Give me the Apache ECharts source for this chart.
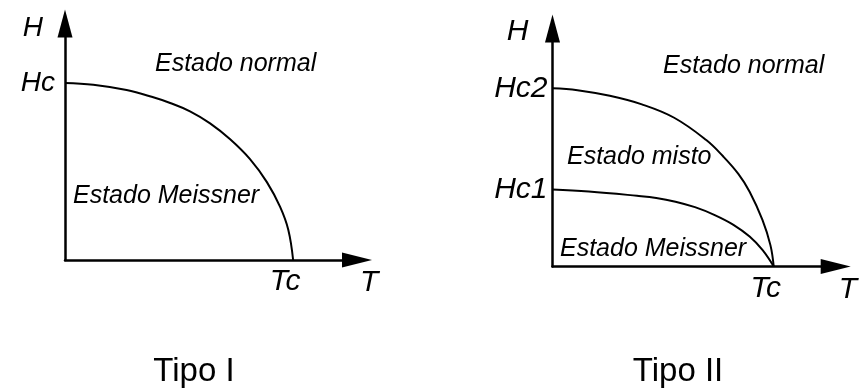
<!DOCTYPE html>
<html>
<head>
<meta charset="utf-8">
<script src="https://cdn.jsdelivr.net/npm/echarts@6/dist/echarts.min.js"></script>
<style>
  html, body { margin: 0; padding: 0; background: #fff; }
  #main { width: 860px; height: 392px; }
</style>
</head>
<body>
<div id="main"></div>
<script>
// critical field curves, T/Tc against H/Hc
var hcTipoI = [[0, 1], [0.124, 0.99], [0.27, 0.96], [0.38, 0.922], [0.461, 0.887],
    [0.548, 0.84], [0.636, 0.772], [0.724, 0.682], [0.811, 0.57], [0.885, 0.44],
    [0.943, 0.3], [0.979, 0.17], [1, 0]];
var hc2TipoII = [[0, 1], [0.113, 0.99], [0.259, 0.958], [0.404, 0.91], [0.55, 0.835],
    [0.695, 0.71], [0.77, 0.62], [0.84, 0.52], [0.891, 0.42], [0.949, 0.262], [0.985, 0.12], [1, 0]];
var hc1TipoII = [[0, 0.432], [0.164, 0.421], [0.382, 0.397], [0.469, 0.385], [0.556, 0.364],
    [0.644, 0.333], [0.731, 0.29], [0.818, 0.234], [0.891, 0.168], [0.949, 0.093], [1, 0]];

// tick labels
var tTicks = [1];
var tLabels = ['Tc'];
var hTicksI = [1];
var hLabelsI = ['Hc'];
var hTicksII = [0.432, 1];
var hLabelsII = ['Hc1', 'Hc2'];

// panel captions / region names
var titles = ['Tipo I', 'Tipo II'];
var regionsI = ['Estado normal', 'Estado Meissner'];
var regionsII = ['Estado normal', 'Estado misto', 'Estado Meissner'];

var FONT = '"Liberation Sans", Arial, sans-serif';
var INK = '#000';

function pick(ticks, labels) {
    return function (v) {
        for (var i = 0; i < ticks.length; i++) {
            if (Math.abs(ticks[i] - v) < 1e-6) return labels[i];
        }
        return '';
    };
}

function xAxisOf(grid, max) {
    return {
        type: 'value', gridIndex: grid, min: 0, max: max,
        name: 'T', nameLocation: 'end', nameGap: 3,
        nameTextStyle: {
            fontFamily: FONT, fontStyle: 'italic', fontSize: 30, color: INK,
            align: 'left', verticalAlign: 'top', padding: [8, 0, 0, 0]
        },
        axisLine: {
            lineStyle: { color: INK, width: 2.5 },
            symbol: ['none', 'triangle'], symbolSize: [15, 30]
        },
        axisTick: { show: false },
        splitLine: { show: false },
        axisLabel: {
            customValues: tTicks, formatter: pick(tTicks, tLabels),
            fontFamily: FONT, fontStyle: 'italic', fontSize: 30, color: INK,
            margin: 7, padding: [0, 16, 0, 0]
        }
    };
}

function yAxisOf(grid, max, ticks, labels, size, margin, padRight) {
    return {
        type: 'value', gridIndex: grid, min: 0, max: max,
        name: 'H', nameLocation: 'end', nameGap: -18.5,
        nameTextStyle: {
            fontFamily: FONT, fontStyle: 'italic', fontSize: size, color: INK,
            align: 'right', verticalAlign: 'bottom', padding: [0, padRight, 0, 0]
        },
        axisLine: {
            lineStyle: { color: INK, width: 2.5 },
            symbol: ['none', 'triangle'], symbolSize: [15, 28]
        },
        axisTick: { show: false },
        splitLine: { show: false },
        axisLabel: {
            customValues: ticks, formatter: pick(ticks, labels),
            fontFamily: FONT, fontStyle: 'italic', fontSize: size, color: INK,
            margin: margin
        }
    };
}

function curve(grid, data) {
    return {
        type: 'line', xAxisIndex: grid, yAxisIndex: grid, data: data,
        smooth: 0.4, showSymbol: false, silent: true,
        lineStyle: { color: INK, width: 2 }
    };
}

function region(text, x, y) {
    return {
        type: 'text', x: x, y: y, silent: true,
        style: {
            text: text, font: 'italic 25px ' + FONT, fill: INK,
            textAlign: 'left', textVerticalAlign: 'middle', align: 'left', verticalAlign: 'middle'
        }
    };
}

function caption(text, x, y) {
    return {
        type: 'text', x: x, y: y, silent: true,
        style: {
            text: text, font: '33px ' + FONT, fill: INK,
            textAlign: 'center', textVerticalAlign: 'middle', align: 'center', verticalAlign: 'middle'
        }
    };
}

var chart = echarts.init(document.getElementById('main'), null, { renderer: 'canvas' });
chart.setOption({
    backgroundColor: '#fff',
    animation: false,
    grid: [
        { left: 65, top: 23.5, width: 292, height: 236.5 },
        { left: 552.5, top: 28.5, width: 293.5, height: 238 }
    ],
    xAxis: [xAxisOf(0, 1.28), xAxisOf(1, 1.28)],
    yAxis: [
        yAxisOf(0, 1.336, hTicksI, hLabelsI, 28, 10, 22),
        yAxisOf(1, 1.336, hTicksII, hLabelsII, 30, 5, 24)
    ],
    series: [
        curve(0, hcTipoI),
        curve(1, hc2TipoII),
        curve(1, hc1TipoII)
    ],
    graphic: [
        region(regionsI[0], 155, 64),
        region(regionsI[1], 73, 196),
        region(regionsII[0], 663, 66),
        region(regionsII[1], 567, 157),
        region(regionsII[2], 560, 249),
        caption(titles[0], 194, 372),
        caption(titles[1], 678, 372)
    ]
});
</script>
</body>
</html>
